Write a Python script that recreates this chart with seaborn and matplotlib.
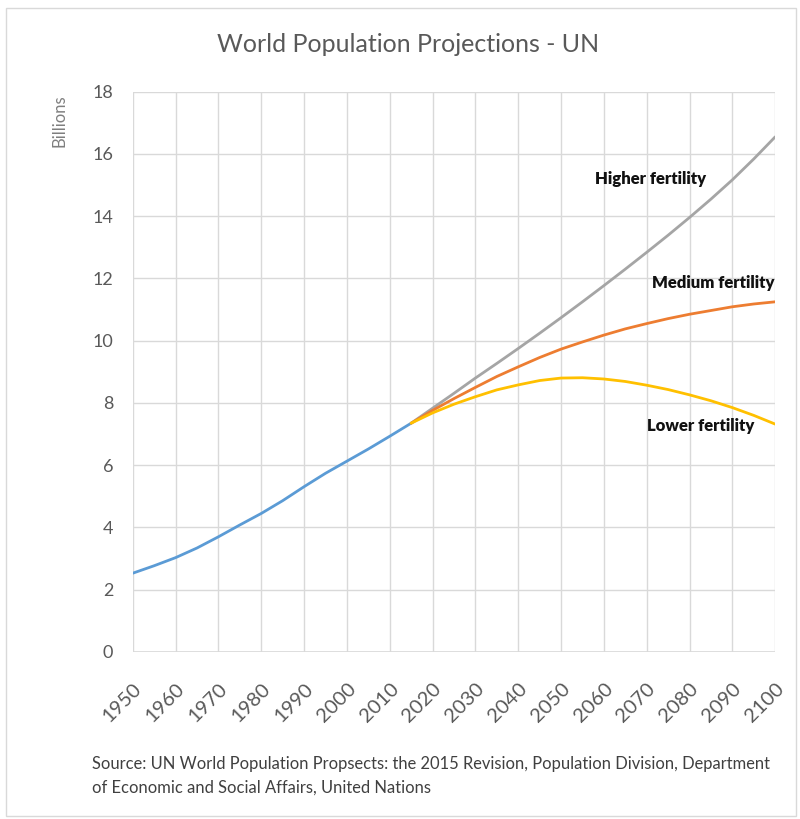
import matplotlib.pyplot as plt
import numpy as np
import pandas as pd
import seaborn as sns

# UN WPP 2015 (billions)
hist_years = [1950, 1955, 1960, 1965, 1970, 1975, 1980, 1985, 1990, 1995, 2000, 2005, 2010, 2015]
hist_pop = [2.53, 2.77, 3.03, 3.34, 3.70, 4.08, 4.45, 4.86, 5.31, 5.74, 6.13, 6.52, 6.93, 7.35]

proj_years = [2015, 2020, 2025, 2030, 2035, 2040, 2045, 2050, 2055, 2060, 2065, 2070,
              2075, 2080, 2085, 2090, 2095, 2100]
high_pop = [7.35, 7.83, 8.31, 8.80, 9.27, 9.75, 10.24, 10.74, 11.25, 11.77, 12.30, 12.84,
            13.39, 13.96, 14.55, 15.17, 15.84, 16.55]
medium_pop = [7.35, 7.76, 8.14, 8.50, 8.85, 9.16, 9.46, 9.73, 9.96, 10.18, 10.38, 10.55,
              10.71, 10.85, 10.97, 11.09, 11.18, 11.25]
low_pop = [7.35, 7.68, 7.96, 8.20, 8.42, 8.58, 8.72, 8.80, 8.81, 8.77, 8.69, 8.57,
           8.43, 8.26, 8.07, 7.85, 7.60, 7.32]

series_names = ["Historical", "Higher fertility", "Medium fertility", "Lower fertility"]
series_colors = ["#5B9BD5", "#A5A5A5", "#ED7D31", "#FFC000"]

df = pd.concat([
    pd.DataFrame({"year": hist_years, "pop": hist_pop, "series": "Historical"}),
    pd.DataFrame({"year": proj_years, "pop": high_pop, "series": "Higher fertility"}),
    pd.DataFrame({"year": proj_years, "pop": medium_pop, "series": "Medium fertility"}),
    pd.DataFrame({"year": proj_years, "pop": low_pop, "series": "Lower fertility"}),
])

sns.set_theme(style="white")
plt.rcParams["font.family"] = ["Lato", "DejaVu Sans"]

fig = plt.figure(figsize=(8, 8.19), dpi=100)
ax = fig.add_axes([0.166, 0.204, 0.803, 0.684])

sns.lineplot(data=df, x="year", y="pop", hue="series", hue_order=series_names,
             palette=dict(zip(series_names, series_colors)), linewidth=2.0,
             legend=False, ax=ax, zorder=3)

ax.set_xlim(1950, 2100)
ax.set_ylim(0, 18)
ax.set_xticks(np.arange(1950, 2101, 10))
ax.set_yticks(np.arange(0, 19, 2))
ax.grid(True, color="#D9D9D9", linewidth=1)
for s in ax.spines.values():
    s.set_visible(False)
ax.axhline(0, color="#D9D9D9", linewidth=1.2)

ax.tick_params(axis="y", length=0, labelsize=13, labelcolor="#595959", pad=14)
ax.tick_params(axis="x", length=0, labelsize=14.5, labelcolor="#595959", pad=20)
plt.setp(ax.get_xticklabels(), rotation=45, ha="right", va="top", rotation_mode="anchor")

ax.set_xlabel("")
ax.set_ylabel("")
fig.text(0.075, 0.885, "Billions", rotation=90, ha="center", va="top",
         fontsize=12, color="#7F7F7F")

fig.suptitle("World Population Projections - UN", x=0.51, y=0.96,
             fontsize=18, color="#595959")

ax.text(2071, 15.2, "Higher fertility", ha="center", va="center",
        fontsize=12, fontweight="heavy", color="#111111")
ax.text(2085.5, 11.87, "Medium fertility", ha="center", va="center",
        fontsize=12, fontweight="heavy", color="#111111")
ax.text(2082.5, 7.27, "Lower fertility", ha="center", va="center",
        fontsize=12, fontweight="heavy", color="#111111")

fig.text(0.115, 0.029,
         "Source: UN World Population Propsects: the 2015 Revision, Population Division, Department\n"
         "of Economic and Social Affairs, United Nations",
         ha="left", va="bottom", fontsize=11.9, color="#404040", linespacing=1.55)

fig.patches.append(plt.Rectangle((0.007, 0.004), 0.988, 0.986, transform=fig.transFigure,
                                 fill=False, edgecolor="#D9D9D9", linewidth=1))

fig.savefig("out.png", dpi=100, facecolor="white")
